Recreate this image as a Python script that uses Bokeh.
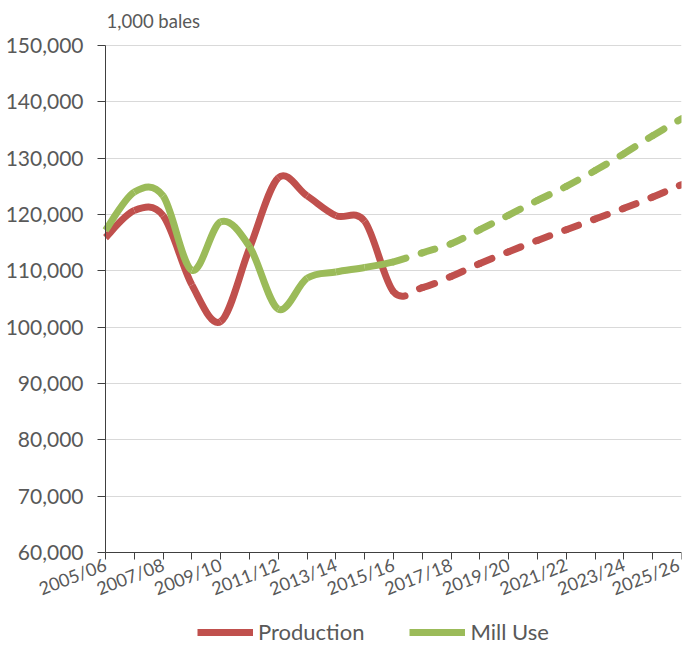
import numpy as np
from bokeh.plotting import figure
from bokeh.models import (Range1d, FixedTicker, NumeralTickFormatter, Legend, LegendItem,
                          ColumnDataSource, Grid, Label)
from bokeh.embed import file_html
from bokeh.resources import INLINE

years = ["2005/06", "2006/07", "2007/08", "2008/09", "2009/10", "2010/11", "2011/12",
         "2012/13", "2013/14", "2014/15", "2015/16", "2016/17", "2017/18", "2018/19",
         "2019/20", "2020/21", "2021/22", "2022/23", "2023/24", "2024/25", "2025/26"]
production = [115900, 120700, 119800, 107500, 101000, 114000, 126500, 123300, 119800, 118800,
              106300, 107000, 109000, 111300, 113400, 115400, 117300, 119200, 121100, 123100, 125300]
mill_use = [117200, 124000, 123300, 110100, 118700, 114300, 103200, 108700, 109800, 110600,
            111600, 113200, 114800, 117300, 119900, 122500, 125000, 127800, 130800, 134000, 137000]
last_actual = "2015/16"
unit_label = "1,000 bales"
y_min, y_max, y_step = 60000, 150000, 10000

RED = "#C0504D"
GREEN = "#9BBB59"
GRAY = "#595959"
AXIS = "#404040"
FONT = "Lato"

W, H = 682, 646
PLOT_LEFT, PLOT_RIGHT, PLOT_TOP, PLOT_BOTTOM = 105, 681, 45, 552   # plot area in page pixels


def bezier_source(values, start, stop):
    """Excel-like smoothed segments: cubic Bezier through each pair of points."""
    x = np.arange(len(values), dtype=float)
    y = np.asarray(values, dtype=float)
    n = len(y)
    xp = np.concatenate([[x[0]], x, [x[-1]]])
    yp = np.concatenate([[y[0]], y, [y[-1]]])
    cx0 = xp[1:n] + (xp[2:n + 1] - xp[0:n - 1]) / 6.0
    cy0 = yp[1:n] + (yp[2:n + 1] - yp[0:n - 1]) / 6.0
    cx1 = xp[2:n + 1] - (xp[3:n + 2] - xp[1:n]) / 6.0
    cy1 = yp[2:n + 1] - (yp[3:n + 2] - yp[1:n]) / 6.0
    s = slice(start, stop)
    return ColumnDataSource(dict(x0=x[:-1][s], y0=y[:-1][s], x1=x[1:][s], y1=y[1:][s],
                                 cx0=cx0[s], cy0=cy0[s], cx1=cx1[s], cy1=cy1[s]))


split = years.index(last_actual)
n_last = len(years) - 1

# The frame covers the whole canvas (so that axis labels and legend are not clipped);
# the axes are pinned to the edges of the plot area.
px_x = (PLOT_RIGHT - PLOT_LEFT) / n_last
px_y = (PLOT_BOTTOM - PLOT_TOP) / (y_max - y_min)
x_start = -PLOT_LEFT / px_x
y_start = y_min - (H - PLOT_BOTTOM) / px_y
y_end = y_max + PLOT_TOP / px_y

p = figure(width=W, height=H, x_range=Range1d(x_start, n_last), y_range=Range1d(y_start, y_end),
           output_backend="svg", toolbar_location=None,
           min_border_left=0, min_border_right=W - PLOT_RIGHT, min_border_top=0, min_border_bottom=0)
p.outline_line_color = None
p.background_fill_color = "white"

p.add_layout(Label(x=PLOT_LEFT + 1, y=H - 20, x_units="screen", y_units="screen", text=unit_label,
                   text_font=FONT, text_font_size="18.5px", text_color=GRAY,
                   text_align="left", text_baseline="middle"))

# y axis
p.yaxis.fixed_location = 0
p.yaxis.bounds = (y_min, y_max)
p.yaxis.ticker = FixedTicker(ticks=list(range(y_min, y_max + 1, y_step)))
p.yaxis.formatter = NumeralTickFormatter(format="0,0")
p.yaxis.major_tick_out = 8
p.yaxis.major_tick_in = 0
p.yaxis.minor_tick_out = 0
p.yaxis.minor_tick_in = 0
p.yaxis.axis_line_color = AXIS
p.yaxis.major_tick_line_color = AXIS
p.yaxis.major_label_text_font = FONT
p.yaxis.major_label_text_font_size = "21px"
p.yaxis.major_label_text_color = GRAY
p.yaxis.major_label_standoff = 14

# x axis
p.xaxis.fixed_location = y_min
p.xaxis.bounds = (0, n_last)
p.xaxis.ticker = FixedTicker(ticks=list(range(0, len(years), 2)), minor_ticks=list(range(1, len(years), 2)))
p.xaxis.major_label_overrides = {i: years[i] for i in range(0, len(years), 2)}
p.xaxis.major_label_orientation = 0.37
p.xaxis.major_tick_out = 7
p.xaxis.major_tick_in = 0
p.xaxis.minor_tick_out = 7
p.xaxis.minor_tick_in = 0
p.xaxis.axis_line_color = AXIS
p.xaxis.major_tick_line_color = AXIS
p.xaxis.minor_tick_line_color = AXIS
p.xaxis.major_label_text_font = FONT
p.xaxis.major_label_text_font_size = "18px"
p.xaxis.major_label_text_color = GRAY
p.xaxis.major_label_standoff = 4

p.xgrid.visible = False
if "cross_bounds" in Grid.properties():
    p.ygrid.cross_bounds = (0, n_last)
    p.ygrid.grid_line_color = "#D9D9D9"
    p.ygrid.grid_line_width = 1
else:
    p.ygrid.visible = False
    gy = list(range(y_min, y_max + 1, y_step))
    p.segment(x0=[0] * len(gy), x1=[n_last] * len(gy), y0=gy, y1=gy,
              line_color="#D9D9D9", line_width=1, level="underlay")

renderers = {}
for name, vals, color in [("Production", production, RED), ("Mill Use", mill_use, GREEN)]:
    solid = p.bezier(x0="x0", y0="y0", x1="x1", y1="y1", cx0="cx0", cy0="cy0", cx1="cx1", cy1="cy1",
                     source=bezier_source(vals, 0, split), line_color=color, line_width=7,
                     line_cap="butt")
    p.bezier(x0="x0", y0="y0", x1="x1", y1="y1", cx0="cx0", cy0="cy0", cx1="cx1", cy1="cy1",
             source=bezier_source(vals, split, n_last), line_color=color, line_width=7,
             line_cap="round", line_dash="13 16")
    renderers[name] = solid

legend = Legend(items=[LegendItem(label="Production", renderers=[renderers["Production"]]),
                       LegendItem(label="Mill Use", renderers=[renderers["Mill Use"]])],
                orientation="horizontal", location=(197, 1), glyph_width=56, glyph_height=20,
                label_standoff=5, spacing=45, padding=0, margin=0,
                border_line_color=None, background_fill_alpha=0,
                label_text_font=FONT, label_text_font_size="22px", label_text_color=GRAY)
p.add_layout(legend)

open("out.html", "w").write(file_html(p, INLINE))
